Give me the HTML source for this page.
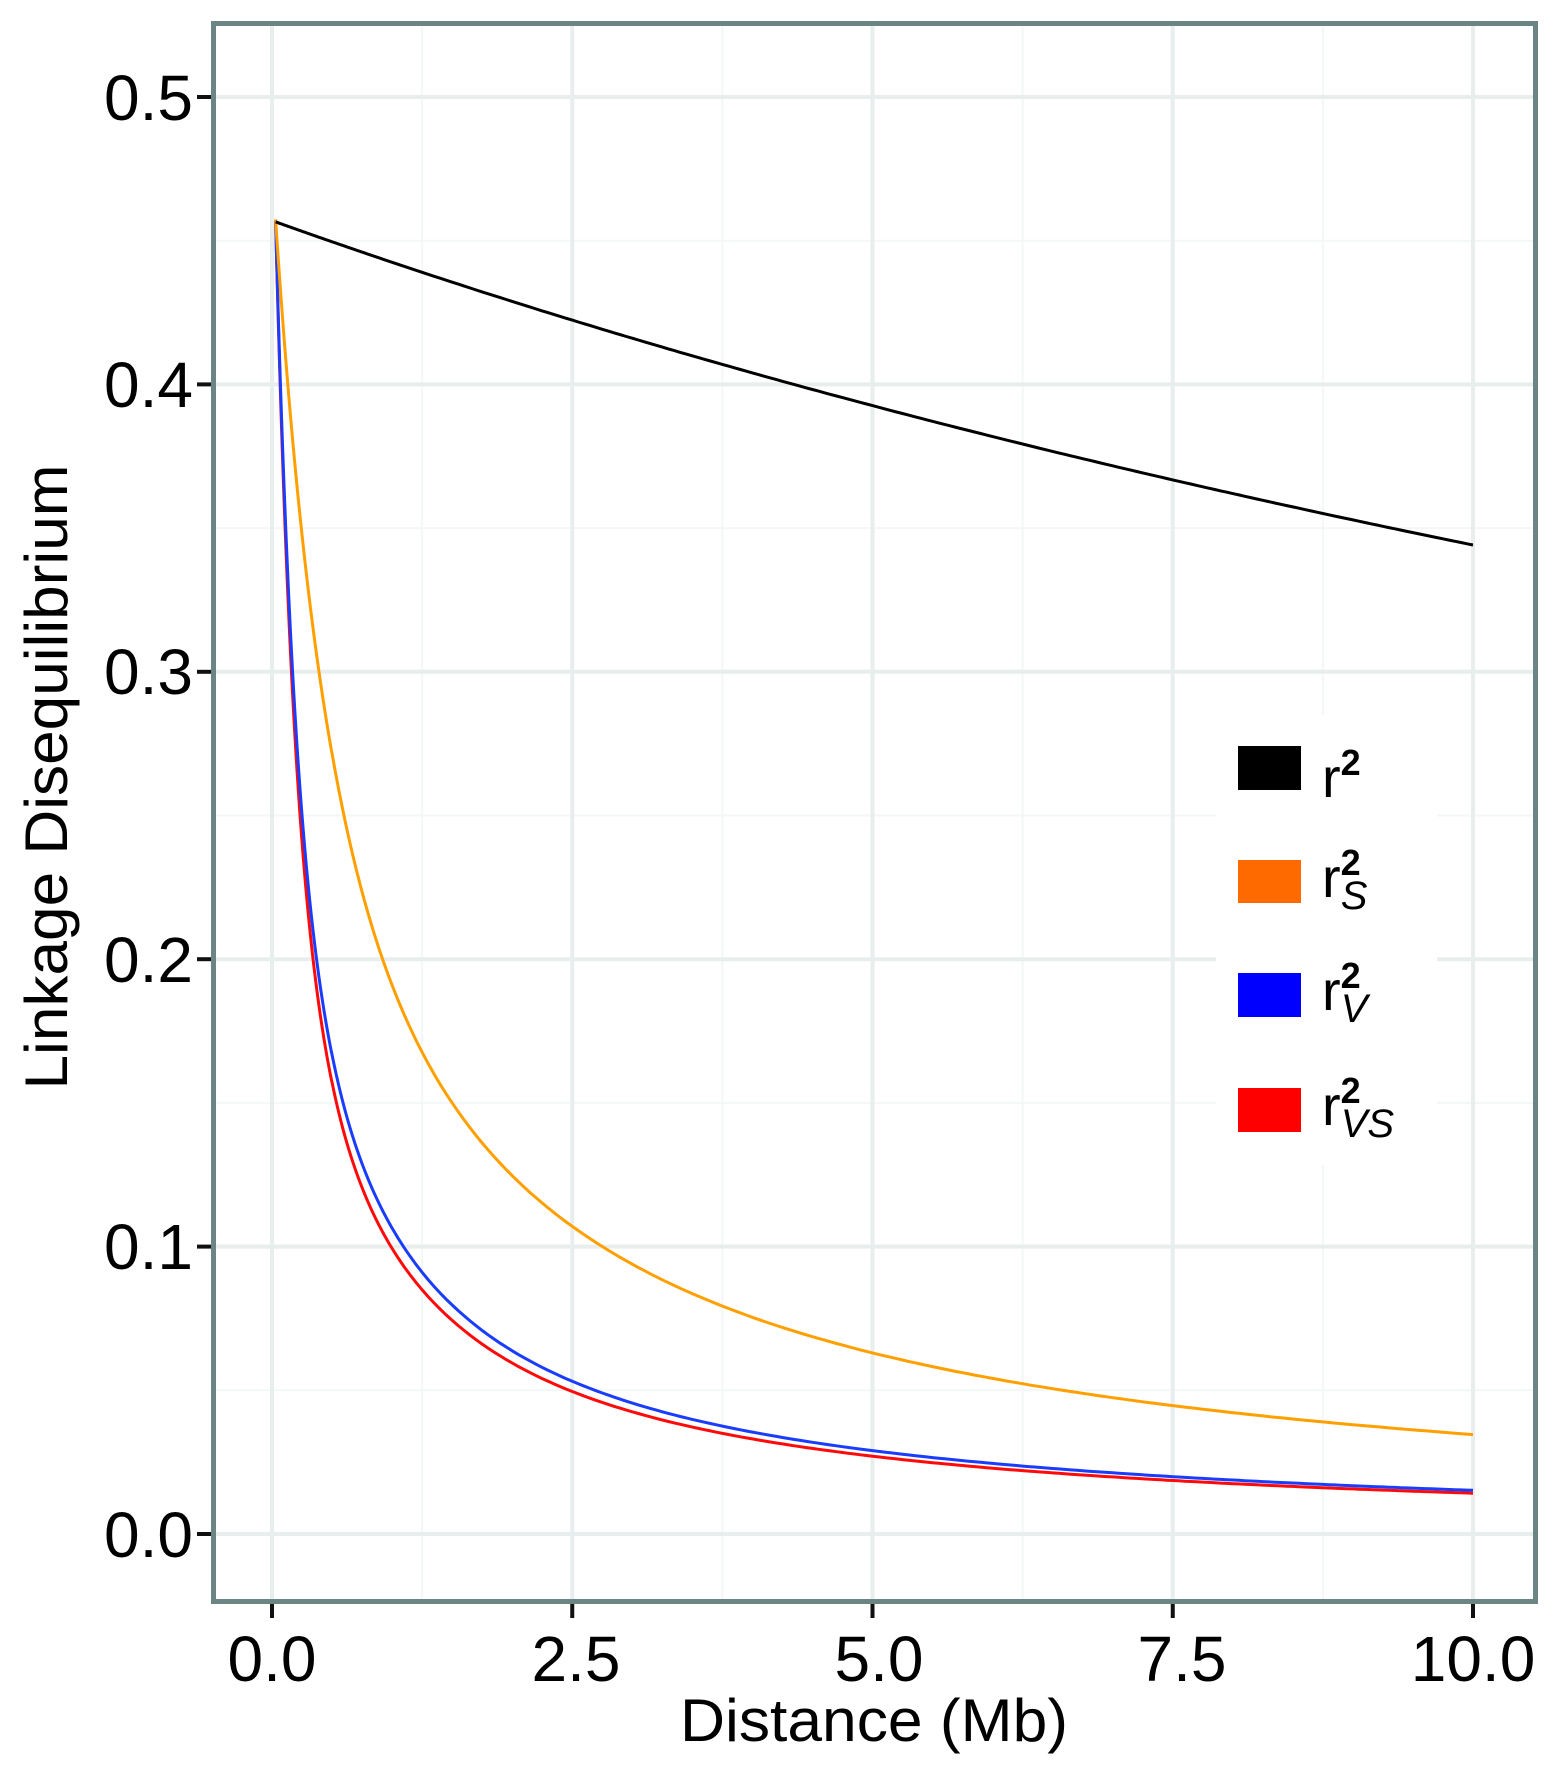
<!DOCTYPE html>
<html><head><meta charset="utf-8"><style>
html,body{margin:0;padding:0;background:#fff;}
svg{display:block;}
text{font-family:"Liberation Sans",sans-serif;fill:#000;}
</style></head><body>
<svg id="s" width="1558" height="1771" viewBox="0 0 1558 1771" xmlns="http://www.w3.org/2000/svg">
<rect x="0" y="0" width="1558" height="1771" fill="#fff"/>
<g id="grid"></g>
<rect x="1216" y="715" width="221" height="450" fill="#fff"/>
<g id="curves" fill="none" stroke-width="3"></g>
<rect x="213.5" y="23.5" width="1322" height="1578" fill="none" stroke="#6b8585" stroke-width="5"/>
<g id="ticks" stroke="#111" stroke-width="4"></g>
<g font-size="64">
<text x="193" y="1557" text-anchor="end">0.0</text>
<text x="193" y="1269" text-anchor="end">0.1</text>
<text x="193" y="982" text-anchor="end">0.2</text>
<text x="193" y="694" text-anchor="end">0.3</text>
<text x="193" y="407" text-anchor="end">0.4</text>
<text x="193" y="120" text-anchor="end">0.5</text>
<text x="272" y="1681" text-anchor="middle">0.0</text>
<text x="576" y="1681" text-anchor="middle">2.5</text>
<text x="879" y="1681" text-anchor="middle">5.0</text>
<text x="1182" y="1681" text-anchor="middle">7.5</text>
<text x="1473" y="1681" text-anchor="middle">10.0</text>
</g>
<text x="874" y="1741" font-size="60" text-anchor="middle" textLength="388" lengthAdjust="spacingAndGlyphs">Distance (Mb)</text>
<text transform="translate(67,777) rotate(-90)" font-size="60" text-anchor="middle" textLength="625" lengthAdjust="spacingAndGlyphs">Linkage Disequilibrium</text>
<rect x="1238" y="746" width="63" height="44" fill="#000"/>
<rect x="1238" y="860" width="63" height="43" fill="#ff6a00"/>
<rect x="1238" y="973" width="63" height="44" fill="#0000ff"/>
<rect x="1238" y="1088" width="63" height="44" fill="#ff0000"/>
<g font-size="56">
<text x="1322" y="797">r<tspan font-size="36" font-weight="bold" dy="-22">2</tspan></text>
<text x="1322" y="897">r<tspan font-size="36" font-weight="bold" dy="-22">2</tspan><tspan font-size="40" font-style="italic" dx="-20" dy="34">S</tspan></text>
<text x="1322" y="1010">r<tspan font-size="36" font-weight="bold" dy="-22">2</tspan><tspan font-size="40" font-style="italic" dx="-20" dy="34">V</tspan></text>
<text x="1322" y="1125">r<tspan font-size="36" font-weight="bold" dy="-22">2</tspan><tspan font-size="40" font-style="italic" dx="-20" dy="34">VS</tspan></text>
</g>
</svg>
<script>
var NS="http://www.w3.org/2000/svg";
function X(d){return 272+d*120.1;}
function Y(v){return 1534-v*2874;}
function el(p,t,a){var e=document.createElementNS(NS,t);for(var k in a)e.setAttribute(k,a[k]);p.appendChild(e);return e;}
var g=document.getElementById('grid');
[0.05,0.15,0.25,0.35,0.45].forEach(function(v){el(g,'line',{x1:216,x2:1533,y1:Y(v),y2:Y(v),stroke:'#f3f7f7','stroke-width':2});});
[1.25,3.75,6.25,8.75].forEach(function(d){el(g,'line',{x1:X(d),x2:X(d),y1:26,y2:1599,stroke:'#f3f7f7','stroke-width':2});});
[0,0.1,0.2,0.3,0.4,0.5].forEach(function(v){el(g,'line',{x1:216,x2:1533,y1:Y(v),y2:Y(v),stroke:'#e8eeee','stroke-width':4});});
[0,2.5,5,7.5,10].forEach(function(d){el(g,'line',{x1:X(d),x2:X(d),y1:26,y2:1599,stroke:'#e8eeee','stroke-width':4});});
var t=document.getElementById('ticks');
[0,0.1,0.2,0.3,0.4,0.5].forEach(function(v){el(t,'line',{x1:197,x2:211,y1:Y(v),y2:Y(v)});});
[0,2.5,5,7.5,10].forEach(function(d){el(t,'line',{x1:X(d),x2:X(d),y1:1604,y2:1618});});
var fs=[
 ['#000',function(d){return 0.457/(1+0.0328*d);}],
 ['#ffa000',function(d){return 0.3836/(d+1.087)+0.114*Math.exp(-(d-0.03)/0.35);}],
 ['#1a3cff',function(d){return 0.1597/(d+0.505)+0.1585*Math.exp(-(d-0.03)/0.156);}],
 ['#ff0a0a',function(d){return 0.149/(d+0.505)+0.1785*Math.exp(-(d-0.03)/0.156);}]
];
var c=document.getElementById('curves');
for(var i=fs.length-1;i>=0;i--){
 var f=fs[i][1],p=[];
 for(var d=0.03;d<=10.0001;d+=(d<1?0.005:0.05)){p.push(X(d).toFixed(1)+','+Y(f(d)).toFixed(1));}
 el(c,'polyline',{points:p.join(' '),stroke:fs[i][0]});
}
</script>
</body></html>
